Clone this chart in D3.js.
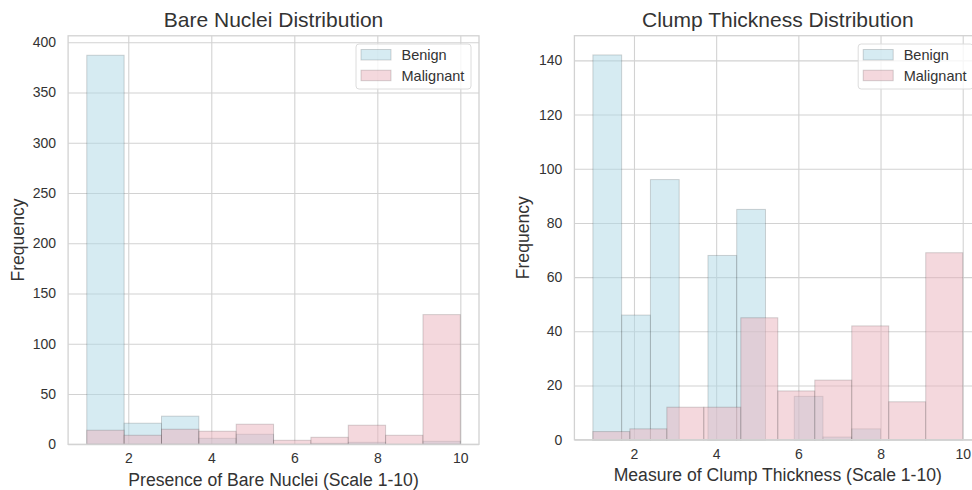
<!DOCTYPE html>
<html>
<head>
<meta charset="utf-8">
<script src="https://cdn.jsdelivr.net/npm/d3@7/dist/d3.min.js"></script>
<style>
  html, body { margin: 0; padding: 0; background: #fff; }
  svg { display: block; font-family: "Liberation Sans", Arial, sans-serif; }
</style>
</head>
<body>
<svg id="chart" width="972" height="490"></svg>
<script>
// ---------- data ----------
const seriesNames = ["Benign", "Malignant"];
const xTicks = [2, 4, 6, 8, 10];

// Bare Nuclei
const bareEdgesBenign    = [1, 1.9, 2.8, 3.7, 4.6, 5.5, 6.4, 7.3, 8.2, 9.1, 10];
const bareBenign         = [387, 21, 28, 6, 10, 0, 1, 2, 0, 3];
const bareEdgesMalignant = [1, 1.9, 2.8, 3.7, 4.6, 5.5, 6.4, 7.3, 8.2, 9.1, 10];
const bareMalignant      = [14, 9, 15, 13, 20, 4, 7, 19, 9, 129];
const bareYTicks = [0, 50, 100, 150, 200, 250, 300, 350, 400];

// Clump Thickness
const clumpEdgesBenign    = [1, 1.7, 2.4, 3.1, 3.8, 4.5, 5.2, 5.9, 6.6, 7.3, 8];
const clumpBenign         = [142, 46, 96, 0, 68, 85, 0, 16, 1, 4];
const clumpEdgesMalignant = [1, 1.9, 2.8, 3.7, 4.6, 5.5, 6.4, 7.3, 8.2, 9.1, 10];
const clumpMalignant      = [3, 4, 12, 12, 45, 18, 22, 42, 14, 69];
const clumpYTicks = [0, 20, 40, 60, 80, 100, 120, 140];

// ---------- styles ----------
const benignFill = "rgb(173,216,230)", benignOpacity = 0.5;
const malFill = "rgb(233,178,188)", malOpacity = 0.5;
const gridColor = "#d2d2d2";
const textColor = "#333333";

const svg = d3.select("#chart");

function panel(cfg) {
  const x = d3.scaleLinear().domain([0.55, 10.45]).range([cfg.left, cfg.right]);
  const yMax = d3.max(cfg.benign.concat(cfg.malignant)) * 1.05;
  const y = d3.scaleLinear().domain([0, yMax]).range([cfg.bottom, cfg.top]);
  const g = svg.append("g");

  // grid
  const xAxis = d3.axisBottom(x).tickValues(xTicks).tickFormat(d3.format("d"))
    .tickSize(-(cfg.bottom - cfg.top)).tickPadding(9);
  const gx = g.append("g").attr("transform", `translate(0,${cfg.bottom})`).call(xAxis);
  const yAxis = d3.axisLeft(y).tickValues(cfg.yTicks).tickFormat(d3.format("d"))
    .tickSize(-(cfg.right - cfg.left)).tickPadding(12);
  const gy = g.append("g").attr("transform", `translate(${cfg.left},0)`).call(yAxis);
  [gx, gy].forEach(a => {
    a.select(".domain").remove();
    a.selectAll(".tick line").attr("stroke", gridColor).attr("stroke-width", 1.1);
    a.selectAll(".tick text").attr("fill", textColor).style("font-size", "14px")
      .style("font-family", "Liberation Sans, Arial, sans-serif");
  });

  // bars
  function bars(values, edges, fill, op) {
    const data = values.map((v, i) => ({ v, x0: edges[i], x1: edges[i + 1] })).filter(d => d.v > 0);
    g.append("g").selectAll("rect").data(data).join("rect")
      .attr("x", d => x(d.x0))
      .attr("width", d => x(d.x1) - x(d.x0))
      .attr("y", d => y(d.v))
      .attr("height", d => y(0) - y(d.v))
      .attr("fill", fill).attr("fill-opacity", op)
      .attr("stroke", "#000").attr("stroke-opacity", 0.16).attr("stroke-width", 1);
  }
  bars(cfg.benign, cfg.edgesBenign, benignFill, benignOpacity);
  bars(cfg.malignant, cfg.edgesMalignant, malFill, malOpacity);

  // frame
  g.append("rect").attr("x", cfg.left).attr("y", cfg.top)
    .attr("width", cfg.right - cfg.left).attr("height", cfg.bottom - cfg.top)
    .attr("fill", "none").attr("stroke", gridColor).attr("stroke-width", 1.3);

  // title & labels
  const cx = (cfg.left + cfg.right) / 2;
  g.append("text").attr("x", cx).attr("y", 27).attr("text-anchor", "middle")
    .attr("fill", textColor).style("font-size", "21px").text(cfg.title);
  g.append("text").attr("x", cx).attr("y", cfg.xLabelY).attr("text-anchor", "middle")
    .attr("fill", textColor).style("font-size", "17.6px").text(cfg.xLabel);
  g.append("text").attr("transform", `translate(${cfg.yLabelX},${(cfg.top + cfg.bottom) / 2}) rotate(-90)`)
    .attr("text-anchor", "middle").attr("dy", "0.35em")
    .attr("fill", textColor).style("font-size", "17.6px").text("Frequency");

  // legend
  const lx = cfg.right - 8 - 115, ly = 44;
  const lg = g.append("g");
  lg.append("rect").attr("x", lx).attr("y", ly).attr("width", 115).attr("height", 45)
    .attr("rx", 3).attr("fill", "#fff").attr("fill-opacity", 0.8)
    .attr("stroke", "#dcdcdc").attr("stroke-width", 1);
  const fills = [[benignFill, benignOpacity], [malFill, malOpacity]];
  seriesNames.forEach((name, i) => {
    lg.append("rect").attr("x", lx + 5).attr("y", ly + 5.5 + i * 20.7)
      .attr("width", 30).attr("height", 10.5)
      .attr("fill", fills[i][0]).attr("fill-opacity", fills[i][1])
      .attr("stroke", "#000").attr("stroke-opacity", 0.16);
    lg.append("text").attr("x", lx + 45.5).attr("y", ly + 16.3 + i * 20.7)
      .attr("fill", textColor).style("font-size", "14.5px").text(name);
  });
}

panel({
  left: 68.1, right: 479, top: 35.8, bottom: 444.3,
  benign: bareBenign, malignant: bareMalignant,
  edgesBenign: bareEdgesBenign, edgesMalignant: bareEdgesMalignant,
  yTicks: bareYTicks, title: "Bare Nuclei Distribution",
  xLabel: "Presence of Bare Nuclei (Scale 1-10)", xLabelY: 486, yLabelX: 18
});
panel({
  left: 574.4, right: 981.2, top: 35.7, bottom: 439.7,
  benign: clumpBenign, malignant: clumpMalignant,
  edgesBenign: clumpEdgesBenign, edgesMalignant: clumpEdgesMalignant,
  yTicks: clumpYTicks, title: "Clump Thickness Distribution",
  xLabel: "Measure of Clump Thickness (Scale 1-10)", xLabelY: 481, yLabelX: 523
});
</script>
</body>
</html>
